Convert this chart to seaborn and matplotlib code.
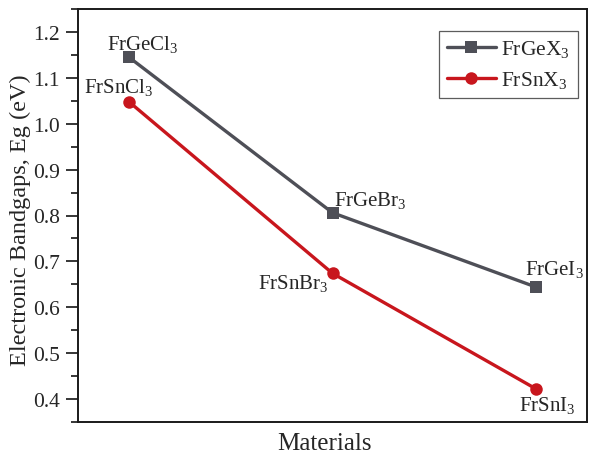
import numpy as np
import pandas as pd
import matplotlib
matplotlib.use("Agg")
import matplotlib.pyplot as plt
import seaborn as sns
from matplotlib.ticker import MultipleLocator

# Bandgap values (eV) for the two perovskite families
positions = [1, 2, 3]
ge_labels = ["FrGeCl$_3$", "FrGeBr$_3$", "FrGeI$_3$"]
sn_labels = ["FrSnCl$_3$", "FrSnBr$_3$", "FrSnI$_3$"]
ge_gap = [1.145, 0.806, 0.644]
sn_gap = [1.048, 0.674, 0.422]
series_names = ["FrGeX$_3$", "FrSnX$_3$"]

df = pd.DataFrame({
    "pos": positions * 2,
    "gap": ge_gap + sn_gap,
    "series": [series_names[0]] * 3 + [series_names[1]] * 3,
})

sns.set_style("white")
plt.rcParams["font.family"] = ["Liberation Serif", "DejaVu Serif"]
plt.rcParams["mathtext.fontset"] = "custom"
plt.rcParams["mathtext.rm"] = "Liberation Serif"
plt.rcParams["mathtext.it"] = "Liberation Serif:italic"
plt.rcParams["mathtext.bf"] = "Liberation Serif:bold"

fig = plt.figure(figsize=(5.89, 4.56), dpi=100)
ax = fig.add_axes([78 / 589, 1 - 423 / 456, 509 / 589, 413 / 456])

grey = "#4e4f57"
red = "#c8161d"
sns.lineplot(
    data=df, x="pos", y="gap", hue="series", style="series",
    palette=[grey, red], markers=["s", "o"], dashes=False,
    linewidth=2.4, markersize=9, markeredgewidth=0, ax=ax,
)

ax.set_xlim(0.75, 3.25)
ax.set_ylim(0.35, 1.25)
ax.yaxis.set_major_locator(MultipleLocator(0.1))
ax.yaxis.set_minor_locator(MultipleLocator(0.05))
ax.set_xticks([])
ax.tick_params(axis="y", which="major", direction="out", length=9, width=1.3,
               labelsize=15.5, left=True, pad=4)
ax.tick_params(axis="y", which="minor", direction="out", length=5, width=1.3, left=True)
for s in ax.spines.values():
    s.set_linewidth(1.4)
    s.set_color("#1a1a1a")

ax.set_xlabel("Materials", fontsize=18)
ax.xaxis.set_label_coords(0.485, -27 / 413, transform=ax.transAxes)
ax.xaxis.label.set_va("baseline")
ax.set_ylabel("Electronic Bandgaps, Eg (eV)", fontsize=17.5)
ax.yaxis.set_label_coords(-47 / 509, 0.49, transform=ax.transAxes)

# Point labels
ge_offsets = [((14, 14), "center"), ((1, 13), "left"), ((18, 19), "center")]
sn_offsets = [((-10, 15), "center"), ((-4, -9), "right"), ((11, -16), "center")]
for x, y, lab, (off, ha) in zip(positions, ge_gap, ge_labels, ge_offsets):
    ax.annotate(lab, (x, y), xytext=off, textcoords="offset pixels",
                ha=ha, va="center", fontsize=15)
for x, y, lab, (off, ha) in zip(positions, sn_gap, sn_labels, sn_offsets):
    ax.annotate(lab, (x, y), xytext=off, textcoords="offset pixels",
                ha=ha, va="center", fontsize=15)

leg = ax.legend(loc="upper right", bbox_to_anchor=(0.982, 0.947), fontsize=15.5,
                frameon=True, fancybox=False, edgecolor="#333333",
                handlelength=2.3, handletextpad=0.25, borderpad=0.35,
                labelspacing=0.45, borderaxespad=0)
leg.get_frame().set_linewidth(0.9)

fig.savefig("out.png", dpi=100)
